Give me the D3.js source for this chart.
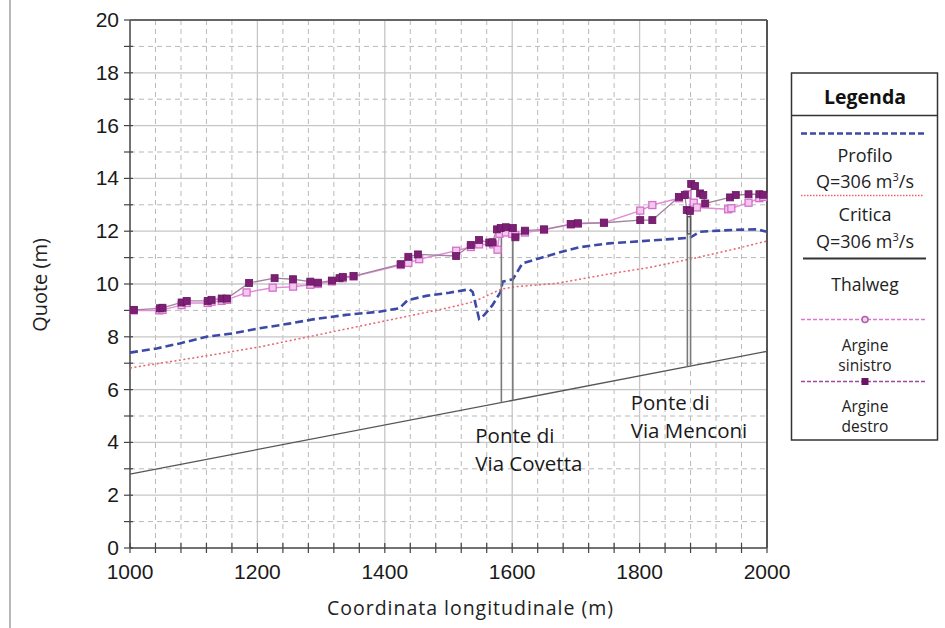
<!DOCTYPE html>
<html><head><meta charset="utf-8">
<script src="https://cdn.jsdelivr.net/npm/d3@7/dist/d3.min.js"></script>
<style>body{margin:0;background:#fff}svg{display:block}</style>
</head><body>
<svg id="c" width="945" height="628"></svg>
<script>
// ---- data ----
const xTicks = [1000,1200,1400,1600,1800,2000];
const yTicks = [0,2,4,6,8,10,12,14,16,18,20];
const thalweg = [[1000,2.8],[2000,7.45]];
const profilo = [[1000,7.4],[1042,7.56],[1078,7.75],[1120,8.0],[1161,8.13],[1203,8.32],[1250,8.5],[1287,8.66],[1339,8.83],[1391,8.95],[1423,9.08],[1436,9.39],[1465,9.55],[1501,9.67],[1533,9.8],[1538,9.7],[1548,8.68],[1556,8.82],[1569,9.2],[1582,9.71],[1585,10.09],[1601,10.18],[1616,10.78],[1642,10.97],[1669,11.16],[1705,11.39],[1752,11.54],[1790,11.6],[1842,11.69],[1879,11.75],[1895,11.98],[1947,12.05],[1984,12.07],[2000,11.98]];
const critica = [[1000,6.82],[1100,7.2],[1200,7.6],[1300,8.1],[1400,8.6],[1450,8.85],[1500,9.1],[1540,9.33],[1582,9.8],[1606,9.9],[1669,10.02],[1752,10.38],[1816,10.63],[1884,10.97],[1947,11.31],[2000,11.63]];
const argineSinistro = [[1006,9.0],[1046,9.0],[1051,9.02],[1081,9.2],[1089,9.28],[1122,9.28],[1128,9.33],[1144,9.36],[1152,9.4],[1183,9.68],[1224,9.86],[1256,9.9],[1283,9.97],[1295,10.0],[1317,10.1],[1334,10.22],[1351,10.28],[1425,10.72],[1437,10.8],[1454,10.94],[1512,11.26],[1535,11.4],[1548,11.5],[1570,11.5],[1577,11.3],[1580,11.9],[1590,11.95],[1600,11.9],[1605,11.85],[1620,11.95],[1650,12.05],[1692,12.25],[1703,12.28],[1744,12.32],[1801,12.78],[1820,12.99],[1862,13.25],[1875,13.4],[1885,13.08],[1890,12.9],[1939,12.83],[1944,12.87],[1971,13.08],[1988,13.25],[1994,13.3]];
const argineDestro = [[1006,9.02],[1047,9.08],[1051,9.1],[1081,9.3],[1089,9.36],[1122,9.36],[1128,9.4],[1144,9.45],[1152,9.45],[1187,10.04],[1227,10.22],[1256,10.18],[1283,10.09],[1295,10.05],[1317,10.13],[1329,10.22],[1334,10.27],[1351,10.3],[1425,10.75],[1437,11.03],[1452,11.12],[1512,11.06],[1535,11.48],[1548,11.67],[1564,11.57],[1569,11.58],[1576,12.07],[1582,12.12],[1590,12.15],[1601,12.12],[1605,11.77],[1620,12.02],[1650,12.07],[1692,12.27],[1703,12.3],[1744,12.32],[1801,12.42],[1820,12.42],[1862,13.3],[1871,13.37],[1874,12.8],[1879,12.77],[1881,13.79],[1887,13.71],[1895,13.43],[1900,13.37],[1903,13.05],[1942,13.28],[1951,13.37],[1971,13.4],[1988,13.4],[1994,13.38]];
const bridges = [
  {name:["Ponte di","Via Covetta"], piers:[1583,1601], top:12.1, labelX:1542, labelY:3.98},
  {name:["Ponte di","Via Menconi"], piers:[1875,1880], top:12.75, labelX:1786, labelY:5.22}
];
const legendItems = ["Profilo","Critica","Thalweg","Argine sinistro","Argine destro"];

// ---- chart ----
const svg = d3.select("#c");
const L=130, R=767, T=20, B=548;
const x = d3.scaleLinear().domain([1000,2000]).range([L,R]);
const y = d3.scaleLinear().domain([0,20]).range([B,T]);
const thal = d3.scaleLinear().domain(thalweg.map(d=>d[0])).range(thalweg.map(d=>d[1]));
const tf = "'Open Sans',sans-serif";

// outer frame line left
svg.append("line").attr("x1",10).attr("x2",10).attr("y1",0).attr("y2",628).attr("stroke","#888").attr("stroke-width",1.2);

// grid
const g = svg.append("g");
const minorX = d3.range(1040,2000,40).filter(v=>v%200!==0);
const majorX = [1200,1400,1600,1800];
g.selectAll(".gxm").data(minorX).join("line").attr("x1",d=>x(d)).attr("x2",d=>x(d)).attr("y1",T).attr("y2",B)
  .attr("stroke","#b9b9b9").attr("stroke-dasharray","5,4").attr("stroke-width",1);
g.selectAll(".gxM").data(majorX).join("line").attr("x1",d=>x(d)).attr("x2",d=>x(d)).attr("y1",T).attr("y2",B)
  .attr("stroke","#c6c6c6").attr("stroke-width",1.3);
const minorY = d3.range(1,20,2);
const majorY = d3.range(2,20,2);
g.selectAll(".gym").data(minorY).join("line").attr("y1",d=>y(d)).attr("y2",d=>y(d)).attr("x1",L).attr("x2",R)
  .attr("stroke","#b9b9b9").attr("stroke-dasharray","5,4").attr("stroke-width",1);
g.selectAll(".gyM").data(majorY).join("line").attr("y1",d=>y(d)).attr("y2",d=>y(d)).attr("x1",L).attr("x2",R)
  .attr("stroke","#c6c6c6").attr("stroke-width",1.3);

// axes
const ax = svg.append("g").attr("transform",`translate(0,${B})`);
ax.selectAll(".tk").data(d3.range(1000,2001,40)).join("line").attr("x1",d=>x(d)).attr("x2",d=>x(d)).attr("y1",-5).attr("y2",5).attr("stroke","#444").attr("stroke-width",1.2);
ax.append("line").attr("x1",L).attr("x2",R).attr("stroke","#444").attr("stroke-width",1.5);
ax.selectAll(".lb").data(xTicks).join("text").attr("x",d=>x(d)).attr("y",31).attr("text-anchor","middle")
  .attr("font-family","'Liberation Sans Narrow','Liberation Sans',sans-serif").attr("font-size",21).attr("fill","#1a1a1a").text(d=>d);
const ay = svg.append("g").attr("transform",`translate(${L},0)`);
ay.selectAll(".tk").data(d3.range(0,21,1)).join("line").attr("y1",d=>y(d)).attr("y2",d=>y(d)).attr("x1",-6).attr("x2",3).attr("stroke","#444").attr("stroke-width",1.2);
ay.append("line").attr("y1",T).attr("y2",B).attr("stroke","#444").attr("stroke-width",1.5);
ay.selectAll(".lb").data(yTicks).join("text").attr("x",-11).attr("y",d=>y(d)+7).attr("text-anchor","end")
  .attr("font-family","'Liberation Sans Narrow','Liberation Sans',sans-serif").attr("font-size",21).attr("fill","#1a1a1a").text(d=>d);
// top and right borders
svg.append("line").attr("x1",L).attr("x2",R).attr("y1",T).attr("y2",T).attr("stroke","#666").attr("stroke-width",2);
svg.append("line").attr("x1",R).attr("x2",R).attr("y1",T).attr("y2",B).attr("stroke","#555").attr("stroke-width",2);

// titles
svg.append("text").attr("transform","translate(47,285) rotate(-90)").attr("text-anchor","middle")
  .attr("font-family",tf).attr("font-size",20).attr("fill","#222").text("Quote (m)");
svg.append("text").attr("x",470).attr("y",615).attr("text-anchor","middle")
  .attr("font-family",tf).attr("font-size",19.5).attr("textLength",286).attr("lengthAdjust","spacing").attr("fill","#222").text("Coordinata  longitudinale (m)");

const line = d3.line().x(d=>x(d[0])).y(d=>y(d[1]));
const plot = svg.append("g");

// thalweg
plot.append("path").datum(thalweg).attr("d",line).attr("fill","none").attr("stroke","#555").attr("stroke-width",1.3);
// critica
plot.append("path").datum(critica).attr("d",line).attr("fill","none").attr("stroke","#e8646e").attr("stroke-width",1.5).attr("stroke-dasharray","2,2.5");
// profilo
plot.append("path").datum(profilo).attr("d",line).attr("fill","none").attr("stroke","#3c49a6").attr("stroke-width",2.6).attr("stroke-dasharray","8,4");

// bridges
bridges.forEach(b=>{
  b.piers.forEach(p=>{
    plot.append("line").attr("x1",x(p)).attr("x2",x(p)).attr("y1",y(b.top)).attr("y2",y(thal(p)))
      .attr("stroke","#7a7a7a").attr("stroke-width",1.6);
  });
  b.name.forEach((t,i)=>{
    svg.append("text").attr("x",x(b.labelX)).attr("y",y(b.labelY)+i*28).attr("font-family",tf)
      .attr("font-size",20.5).attr("fill","#1a1a1a").text(t);
  });
});
// pier box of second bridge
plot.append("rect").attr("x",x(1875)).attr("y",y(12.55)).attr("width",x(1880)-x(1875)).attr("height",y(11.9)-y(12.55))
  .attr("fill","none").attr("stroke","#555").attr("stroke-width",1.4);

// argine lines
plot.append("path").datum(argineSinistro).attr("d",line).attr("fill","none").attr("stroke","#e38cd9").attr("stroke-width",1.5);
plot.append("path").datum(argineDestro).attr("d",line).attr("fill","none").attr("stroke","#a0849e").attr("stroke-width",1.3);
plot.selectAll(".ms").data(argineSinistro).join("rect").attr("x",d=>x(d[0])-3.5).attr("y",d=>y(d[1])-3.5).attr("width",7).attr("height",7)
  .attr("fill","#f4c8ee").attr("stroke","#d56fcb").attr("stroke-width",1.3);
plot.selectAll(".md").data(argineDestro).join("rect").attr("x",d=>x(d[0])-3.5).attr("y",d=>y(d[1])-3.5).attr("width",7).attr("height",7)
  .attr("fill","#7d1f74").attr("stroke","#661860").attr("stroke-width",0.8);

// legend
const lg = svg.append("g");
lg.append("rect").attr("x",791.5).attr("y",73).attr("width",146).attr("height",367).attr("fill","#fff").attr("stroke","#333").attr("stroke-width",1.5);
lg.append("line").attr("x1",791.5).attr("x2",937.5).attr("y1",115.5).attr("y2",115.5).attr("stroke","#333").attr("stroke-width",1.5);
const cx = 865;
lg.append("text").attr("x",cx).attr("y",104).attr("text-anchor","middle").attr("font-family",tf).attr("font-weight","bold").attr("font-size",19.5).attr("fill","#111").text("Legenda");
lg.append("line").attr("x1",801).attr("x2",924).attr("y1",133.5).attr("y2",133.5).attr("stroke","#3c49a6").attr("stroke-width",2.5).attr("stroke-dasharray","6,3");
function qtext(yy){
  const t = lg.append("text").attr("x",cx).attr("y",yy).attr("text-anchor","middle").attr("font-family",tf).attr("font-size",18).attr("fill","#222");
  t.append("tspan").text("Q=306 m");
  t.append("tspan").attr("font-size",11).attr("dy",-7).text("3");
  t.append("tspan").attr("dy",7).text("/s");
}
lg.append("text").attr("x",cx).attr("y",162).attr("text-anchor","middle").attr("font-family",tf).attr("font-size",18).attr("fill","#222").text(legendItems[0]);
qtext(188);
lg.append("line").attr("x1",801).attr("x2",924).attr("y1",195.5).attr("y2",195.5).attr("stroke","#e8646e").attr("stroke-width",1.6).attr("stroke-dasharray","1.5,1.5");
lg.append("text").attr("x",cx).attr("y",221).attr("text-anchor","middle").attr("font-family",tf).attr("font-size",18).attr("fill","#222").text(legendItems[1]);
qtext(248);
lg.append("line").attr("x1",803).attr("x2",926).attr("y1",258.5).attr("y2",258.5).attr("stroke","#333").attr("stroke-width",2);
lg.append("text").attr("x",cx).attr("y",291).attr("text-anchor","middle").attr("font-family",tf).attr("font-size",17.5).attr("fill","#222").text(legendItems[2]);
lg.append("line").attr("x1",801).attr("x2",926).attr("y1",319.5).attr("y2",319.5).attr("stroke","#d77acd").attr("stroke-width",1.5).attr("stroke-dasharray","4,2");
lg.append("circle").attr("cx",cx).attr("cy",319.5).attr("r",3).attr("fill","#f6d2f0").attr("stroke","#b060a8").attr("stroke-width",1.5);
lg.append("text").attr("x",cx).attr("y",351).attr("text-anchor","middle").attr("font-family",tf).attr("font-size",15.5).attr("fill","#222").text("Argine");
lg.append("text").attr("x",cx).attr("y",371).attr("text-anchor","middle").attr("font-family",tf).attr("font-size",15.5).attr("fill","#222").text("sinistro");
lg.append("line").attr("x1",801).attr("x2",926).attr("y1",381.5).attr("y2",381.5).attr("stroke","#9a4aa0").attr("stroke-width",1.5).attr("stroke-dasharray","4,2");
lg.append("rect").attr("x",cx-3.5).attr("y",378).attr("width",7).attr("height",7).attr("fill","#6a1466");
lg.append("text").attr("x",cx).attr("y",412).attr("text-anchor","middle").attr("font-family",tf).attr("font-size",15.5).attr("fill","#222").text("Argine");
lg.append("text").attr("x",cx).attr("y",432).attr("text-anchor","middle").attr("font-family",tf).attr("font-size",15.5).attr("fill","#222").text("destro");
</script>
</body></html>
